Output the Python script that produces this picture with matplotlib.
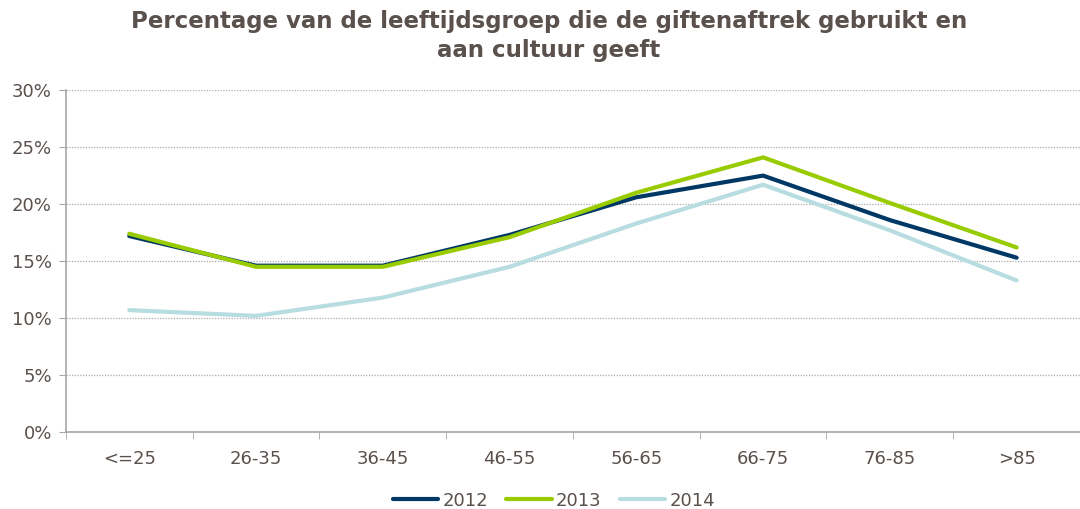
import matplotlib.pyplot as plt
from matplotlib.ticker import FuncFormatter, FixedLocator

# data (percent)
categories = ["<=25", "26-35", "36-45", "46-55", "56-65", "66-75", "76-85", ">85"]
pct_2012 = [17.2, 14.6, 14.6, 17.3, 20.6, 22.5, 18.6, 15.3]
pct_2013 = [17.4, 14.5, 14.5, 17.1, 21.0, 24.1, 20.1, 16.2]
pct_2014 = [10.7, 10.2, 11.8, 14.5, 18.3, 21.7, 17.7, 13.3]

text_col = "#5a504c"
axis_col = "#a6a6a6"

plt.rcParams['font.family'] = ['DejaVu Sans']

fig = plt.figure(figsize=(10.8, 5.09), dpi=100)
ax = fig.add_axes([0.061, 0.151, 0.939, 0.672])

x = range(len(categories))
ax.plot(x, pct_2012, color="#003865", lw=3, label="2012", solid_capstyle="round", zorder=3)
ax.plot(x, pct_2013, color="#99cc00", lw=3, label="2013", solid_capstyle="round", zorder=4)
ax.plot(x, pct_2014, color="#b7dde0", lw=3, label="2014", solid_capstyle="round", zorder=2)

ax.set_xlim(-0.5, len(categories) - 0.5)
ax.set_ylim(0, 30)
ax.set_yticks(range(0, 31, 5))
ax.yaxis.set_major_formatter(FuncFormatter(lambda v, p: f"{v:.0f}%"))
ax.grid(axis="y", color="#ababab", linestyle=(0, (1, 1.2)), lw=0.9)
ax.set_axisbelow(True)

# category labels centred, tick marks between categories
ax.set_xticks(list(x))
ax.set_xticklabels(categories)
ax.xaxis.set_minor_locator(FixedLocator([i - 0.5 for i in range(len(categories) + 1)]))
ax.tick_params(axis="x", which="major", length=0, pad=13, labelsize=13, labelcolor=text_col)
ax.tick_params(axis="x", which="minor", length=5, color=axis_col, direction="out")
ax.tick_params(axis="y", length=5, color=axis_col, labelsize=13, labelcolor=text_col, pad=5)

for s in ["top", "right"]:
    ax.spines[s].set_visible(False)
for s in ["left", "bottom"]:
    ax.spines[s].set_color(axis_col)
    ax.spines[s].set_linewidth(1.2)

fig.suptitle("Percentage van de leeftijdsgroep die de giftenaftrek gebruikt en\naan cultuur geeft",
             x=0.508, y=0.98, fontsize=16.5, fontweight="bold", color=text_col, linespacing=1.3)

leg = fig.legend(loc="lower center", bbox_to_anchor=(0.513, -0.033), ncol=3, frameon=False,
                 fontsize=13, handlelength=2.5, columnspacing=1.0, handletextpad=0.25)
for t in leg.get_texts():
    t.set_color(text_col)

fig.savefig("out.png", dpi=100)
